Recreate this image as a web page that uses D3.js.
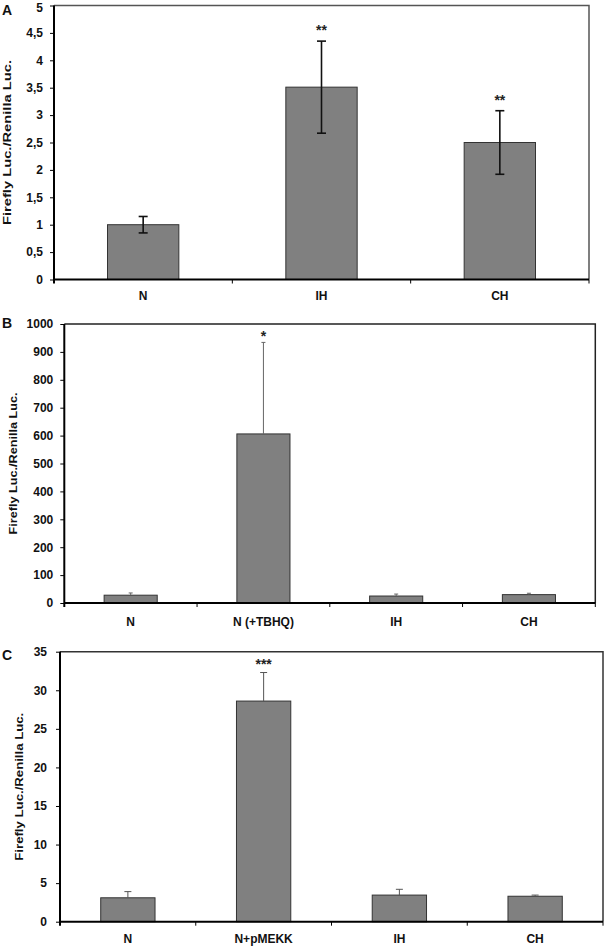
<!DOCTYPE html>
<html><head><meta charset="utf-8">
<script src="https://cdn.jsdelivr.net/npm/d3@7"></script>
<style>
html,body{margin:0;padding:0;background:#fff;}
svg{display:block;font-family:"Liberation Sans",Arial,sans-serif;}
</style></head>
<body>
<svg id="chart" width="604" height="946"></svg>
<script>
// ---- Data ----
const yLabel = "Firefly Luc./Renilla Luc.";

const catsA = ["N", "IH", "CH"];
const valsA = [1.0, 3.51, 2.50];
const errA = [0.15, 0.84, 0.58];
const starsA = ["", "**", "**"];
const ticksA = [0, 0.5, 1, 1.5, 2, 2.5, 3, 3.5, 4, 4.5, 5];

const catsB = ["N", "N (+TBHQ)", "IH", "CH"];
const valsB = [28, 606, 25, 30];
const errB = [8, 328, 7, 5];
const starsB = ["", "*", "", ""];
const ticksB = [0, 100, 200, 300, 400, 500, 600, 700, 800, 900, 1000];

const catsC = ["N", "N+pMEKK", "IH", "CH"];
const valsC = [3.1, 28.6, 3.45, 3.3];
const errC = [0.8, 3.7, 0.75, 0.15];
const starsC = ["", "***", "", ""];
const ticksC = [0, 5, 10, 15, 20, 25, 30, 35];

// ---- Layout / style per panel ----
const panels = [
  {letter:"A", cats:catsA, vals:valsA, errs:errA, stars:starsA, ticks:ticksA, fmt:d => String(d).replace(".", ","),
   x0:54, x1:589, yB:279.5, yT:5.5, letterY:15, labelX:11, labelLen:165, xLabY:300,
   errBoth:true, errColor:"#111", errW:1.6, cap:9, starOff:14, tickPad:7, frame:"#555", topNudge:2},
  {letter:"B", cats:catsB, vals:valsB, errs:errB, stars:starsB, ticks:ticksB, fmt:d => String(d),
   x0:64.3, x1:595.3, yB:603, yT:324, letterY:328, labelX:16.5, labelLen:142, xLabY:625.5,
   errBoth:false, errColor:"#666", errW:1, cap:4, starOff:9, tickPad:7, frame:"#222", topNudge:0},
  {letter:"C", cats:catsC, vals:valsC, errs:errC, stars:starsC, ticks:ticksC, fmt:d => String(d),
   x0:60, x1:603, yB:921.7, yT:651.7, letterY:660, labelX:22.5, labelLen:148, xLabY:943,
   errBoth:false, errColor:"#555", errW:1, cap:7, starOff:12, tickPad:9, frame:"#333", topNudge:0}
];

const svg = d3.select("#chart");

panels.forEach(p => {
  const g = svg.append("g");
  const x = d3.scaleBand().domain(p.cats).range([p.x0, p.x1]).paddingInner(0.6).paddingOuter(0.3);
  const yMax = p.ticks[p.ticks.length - 1];
  const y = d3.scaleLinear().domain([0, yMax]).range([p.yB, p.yT]);

  // frame (top & right)
  g.append("path")
    .attr("d", `M${p.x0},${p.yT}H${p.x1}V${p.yB}`)
    .attr("fill", "none").attr("stroke", p.frame).attr("stroke-width", 1.5);

  // bars
  g.selectAll("rect.bar").data(p.cats).join("rect")
    .attr("x", d => x(d)).attr("width", x.bandwidth())
    .attr("y", (d, i) => y(p.vals[i])).attr("height", (d, i) => y(0) - y(p.vals[i]))
    .attr("fill", "#808080").attr("stroke", "#333").attr("stroke-width", 1);

  // error bars
  p.cats.forEach((c, i) => {
    const cx = x(c) + x.bandwidth() / 2;
    const top = y(p.vals[i] + p.errs[i]);
    const bot = p.errBoth ? y(p.vals[i] - p.errs[i]) : y(p.vals[i]);
    g.append("line").attr("x1", cx).attr("x2", cx).attr("y1", top).attr("y2", bot)
      .attr("stroke", p.errColor).attr("stroke-width", p.errW);
    g.append("line").attr("x1", cx - p.cap/2).attr("x2", cx + p.cap/2).attr("y1", top).attr("y2", top)
      .attr("stroke", p.errColor).attr("stroke-width", p.errW);
    if (p.errBoth) {
      g.append("line").attr("x1", cx - p.cap/2).attr("x2", cx + p.cap/2).attr("y1", bot).attr("y2", bot)
        .attr("stroke", p.errColor).attr("stroke-width", p.errW);
    }
    if (p.stars[i]) {
      g.append("text").attr("x", cx).attr("y", top - p.starOff + 8)
        .attr("text-anchor", "middle").attr("font-size", 14).attr("font-weight", "bold")
        .attr("fill", "#222").text(p.stars[i]);
    }
  });

  // y axis
  const ya = d3.axisLeft(y).tickValues(p.ticks).tickFormat(p.fmt).tickSize(4).tickPadding(p.tickPad);
  const yg = g.append("g").attr("transform", `translate(${p.x0},0)`).call(ya);
  yg.select(".domain").attr("stroke", "#000").attr("stroke-width", 2)
    .attr("d", `M0,${p.yT}V${p.yB + 4}`);
  yg.selectAll(".tick line").attr("stroke", "#000").attr("stroke-width", 1);
  yg.selectAll(".tick text").attr("font-size", 12).attr("font-weight", "bold")
    .attr("font-family", "'Liberation Sans',Arial,sans-serif").attr("fill", "#111")
    .attr("y", d => d === yMax ? p.topNudge : 0);

  // x axis line
  g.append("line").attr("x1", p.x0).attr("x2", p.x1).attr("y1", p.yB).attr("y2", p.yB)
    .attr("stroke", "#000").attr("stroke-width", 2);
  // boundary ticks
  const bounds = d3.range(1, p.cats.length + 1).map(i => p.x0 + i * x.step());
  g.selectAll("line.xt").data(bounds).join("line")
    .attr("x1", d => d).attr("x2", d => d).attr("y1", p.yB).attr("y2", p.yB + 4)
    .attr("stroke", "#000").attr("stroke-width", 1);
  // category labels
  g.selectAll("text.xl").data(p.cats).join("text")
    .attr("x", d => x(d) + x.bandwidth() / 2).attr("y", p.xLabY)
    .attr("text-anchor", "middle").attr("font-size", 12).attr("font-weight", "bold")
    .attr("fill", "#111").text(d => d);

  // y label
  const cy = (p.yT + p.yB) / 2;
  g.append("text").attr("transform", `translate(${p.labelX},${cy}) rotate(-90)`)
    .attr("text-anchor", "middle").attr("font-size", 11.5).attr("font-weight", "bold")
    .attr("textLength", p.labelLen).attr("lengthAdjust", "spacingAndGlyphs")
    .attr("fill", "#111").text(yLabel);

  // panel letter
  g.append("text").attr("x", 2).attr("y", p.letterY).attr("font-size", 14).attr("font-weight", "bold")
    .attr("fill", "#111").text(p.letter);
});
</script>
</body></html>
